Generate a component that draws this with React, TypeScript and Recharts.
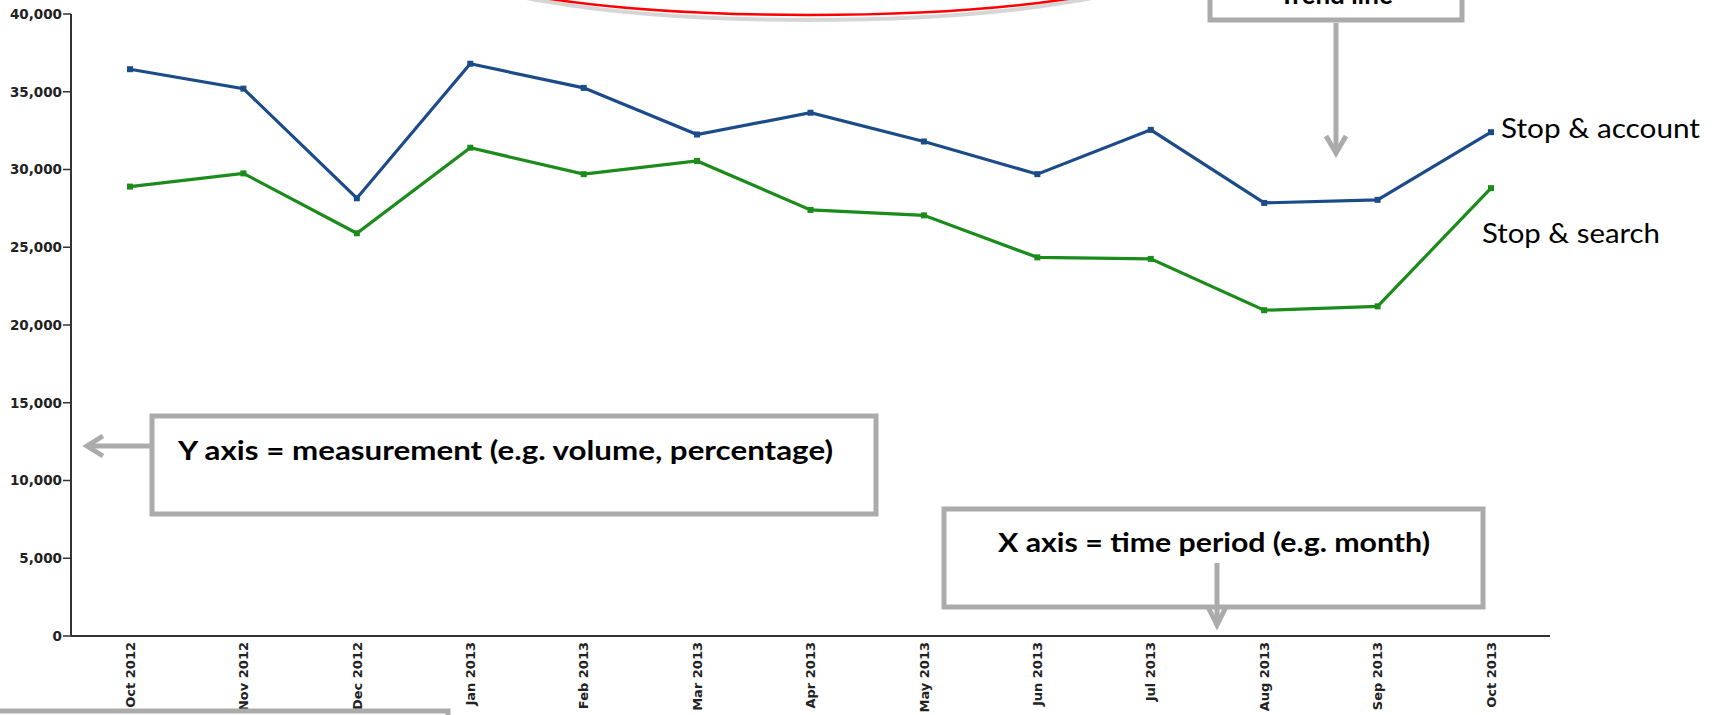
import React from "react";
import { LineChart, Line, XAxis, YAxis } from "recharts";

const MONTHS = [
  "Oct 2012", "Nov 2012", "Dec 2012", "Jan 2013", "Feb 2013", "Mar 2013", "Apr 2013",
  "May 2013", "Jun 2013", "Jul 2013", "Aug 2013", "Sep 2013", "Oct 2013",
];
const STOP_ACCOUNT = [36450, 35200, 28150, 36800, 35250, 32250, 33650, 31800, 29700, 32550, 27850, 28050, 32400];
const STOP_SEARCH = [28900, 29750, 25900, 31400, 29700, 30550, 27400, 27050, 24350, 24250, 20950, 21200, 28800];
const Y_TICKS = [0, 5000, 10000, 15000, 20000, 25000, 30000, 35000, 40000];

const W = 1714;
const H = 715;
const GREY = "#ababab";
const BLUE = "#1c4b8a";
const GREEN = "#1b8c1b";

const data = MONTHS.map((m, i) => ({ month: m, account: STOP_ACCOUNT[i], search: STOP_SEARCH[i] }));

const YTick = ({ x, y, payload }: any) => (
  <text x={x} y={y} dy="0.36em" textAnchor="end" fontFamily="DejaVu Sans" fontWeight="bold" fontSize={13.5} fill="#222">
    {Number(payload.value).toLocaleString("en-US")}
  </text>
);

const XTick = ({ x, y, payload }: any) => (
  <text
    x={x}
    y={y - 2}
    dy="0.36em"
    textAnchor="end"
    transform={`rotate(-90, ${x}, ${y - 2})`}
    fontFamily="DejaVu Sans"
    fontWeight="bold"
    fontSize={13}
    fill="#222"
  >
    {payload.value}
  </text>
);

const Marker = ({ cx, cy, stroke }: any) => (
  <rect x={cx - 3} y={cy - 3} width={6} height={6} fill={stroke} />
);

function Notes() {
  const txt = { fontFamily: "Lato", fontWeight: 700, fontSize: 26, fill: "#000" } as const;
  const plain = { fontFamily: "Lato", fontWeight: 400, fontSize: 26, fill: "#000" } as const;
  return (
    <svg width={W} height={H} style={{ position: "absolute", left: 0, top: 0, pointerEvents: "none" }}>
      {/* title oval, mostly off the top */}
      <ellipse cx={809} cy={-42} rx={370} ry={62} fill="none" stroke="#d6d6d6" strokeWidth={4} />
      <ellipse cx={809} cy={-47} rx={386} ry={62} fill="#fff" stroke="#f00" strokeWidth={2.5} />

      {/* trend line callout */}
      <rect x={1210} y={-40} width={252} height={60} fill="#fff" stroke={GREY} strokeWidth={5} />
      <text x={1336} y={4} textAnchor="middle" {...txt}>Trend line</text>
      <line x1={1336} y1={23} x2={1336} y2={150} stroke={GREY} strokeWidth={5} />
      <polyline points="1326,136 1336,153 1346,136" fill="none" stroke={GREY} strokeWidth={5} />

      {/* y axis callout */}
      <rect x={152} y={416} width={724} height={98} fill="#fff" stroke={GREY} strokeWidth={5} />
      <text x={178} y={460} textLength={655} lengthAdjust="spacingAndGlyphs" {...txt}>
        Y axis = measurement (e.g. volume, percentage)
      </text>
      <line x1={154} y1={446} x2={89} y2={446} stroke={GREY} strokeWidth={5} />
      <polyline points="103,436 87,446 103,456" fill="none" stroke={GREY} strokeWidth={5} />

      {/* x axis callout */}
      <rect x={944} y={509} width={539} height={98} fill="#fff" stroke={GREY} strokeWidth={5} />
      <text x={998} y={552} textLength={432} lengthAdjust="spacingAndGlyphs" {...txt}>
        X axis = time period (e.g. month)
      </text>
      <line x1={1217} y1={563} x2={1217} y2={622} stroke={GREY} strokeWidth={5} />
      <polyline points="1208,607 1217,625 1226,607" fill="none" stroke={GREY} strokeWidth={5} />

      {/* series labels */}
      <text x={1501} y={138} textLength={199} lengthAdjust="spacingAndGlyphs" {...plain}>Stop &amp; account</text>
      <text x={1482} y={243} textLength={178} lengthAdjust="spacingAndGlyphs" {...plain}>Stop &amp; search</text>

      {/* edge of another callout box, cut off at the bottom */}
      <rect x={-10} y={711} width={458} height={40} fill="none" stroke={GREY} strokeWidth={5} />
    </svg>
  );
}

export default function App() {
  return (
    <div style={{ position: "absolute", left: 0, top: 0, width: W, height: H, background: "#fff", overflow: "hidden" }}>
      <LineChart width={W} height={H} data={data} margin={{ top: 14, right: 164, left: 0, bottom: 0 }}>
        <XAxis
          dataKey="month"
          height={79}
          padding={{ left: 59, right: 59 }}
          interval={0}
          tickLine={false}
          axisLine={{ stroke: "#333", strokeWidth: 2 }}
          tick={<XTick />}
        />
        <YAxis
          width={71}
          domain={[0, 40000]}
          ticks={Y_TICKS}
          interval={0}
          tickSize={8}
          tickMargin={1}
          tickLine={{ stroke: "#333", strokeWidth: 1.5 }}
          axisLine={{ stroke: "#333", strokeWidth: 2 }}
          tick={<YTick />}
        />
        <Line
          dataKey="account"
          stroke={BLUE}
          strokeWidth={3.2}
          dot={<Marker />}
          isAnimationActive={false}
        />
        <Line
          dataKey="search"
          stroke={GREEN}
          strokeWidth={3.2}
          dot={<Marker />}
          isAnimationActive={false}
        />
      </LineChart>
      <Notes />
    </div>
  );
}
